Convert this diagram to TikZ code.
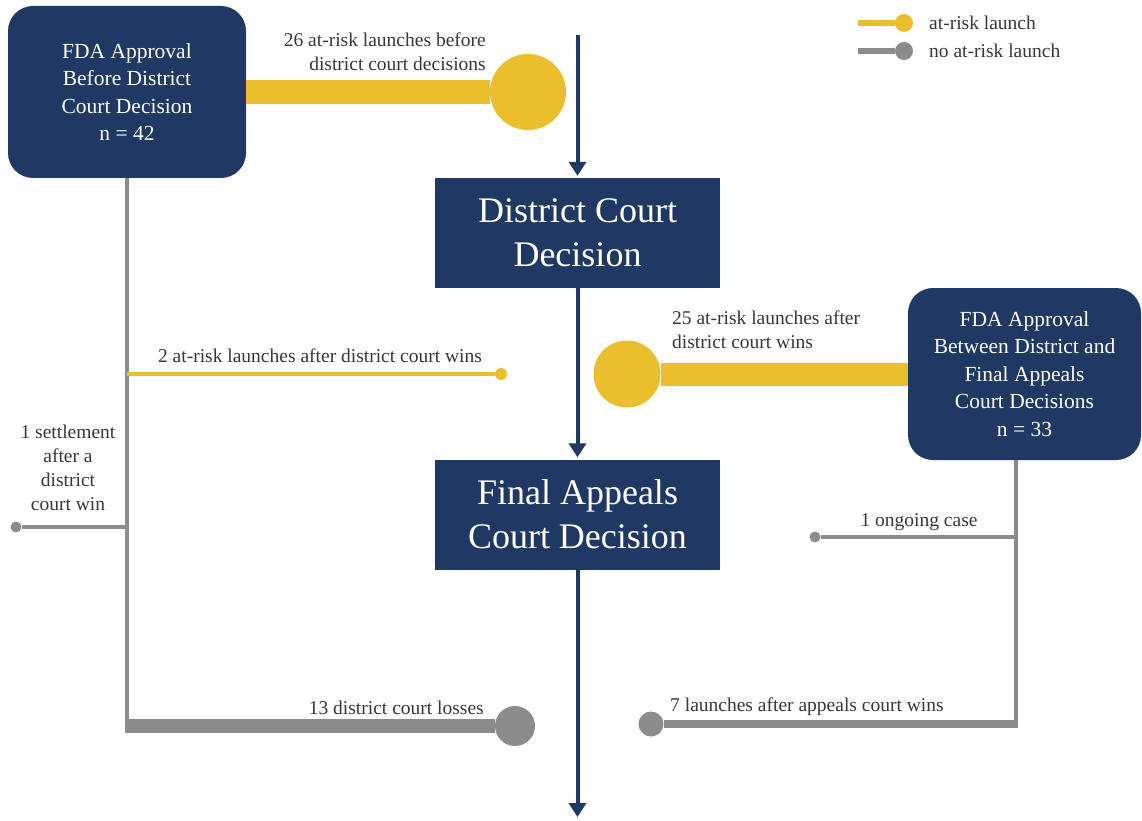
\documentclass[tikz,border=0pt]{standalone}
\usepackage{fontspec}
\setmainfont{Liberation Serif}
\usetikzlibrary{arrows.meta}
\definecolor{navy}{RGB}{31,56,100}
\definecolor{gold}{RGB}{235,190,45}
\definecolor{slate}{RGB}{140,140,140}
\definecolor{ink}{RGB}{55,55,55}
\tikzset{
  box/.style={fill=navy, text=white, align=center, inner sep=0pt},
  fdabox/.style={box, rounded corners=25pt, minimum height=172pt, font=\fontsize{21.5}{27.5}\selectfont},
  courtbox/.style={box, minimum width=285pt, minimum height=110pt, font=\fontsize{36}{44}\selectfont},
  note/.style={text=ink, inner sep=0pt, font=\fontsize{19.5}{24}\selectfont},
  dot/.style={circle, fill, inner sep=0pt, minimum size=#1},
  flow/.style={navy, line width=4pt, -{Triangle[width=17pt,length=14pt]}, shorten >=2pt}
}
\begin{document}
\begin{tikzpicture}[x=1pt, y=-1pt]
\useasboundingbox (0,0) rectangle (1142,821);
\node[fdabox, minimum width=238pt] (A) at (127,92) {FDA Approval\\Before District\\Court Decision\\n = 42};
\node[fdabox, minimum width=233pt] (B) at (1024.5,374) {FDA Approval\\Between District and\\Final Appeals\\Court Decisions\\n = 33};
\node[courtbox] (D) at (577.5,233) {District Court\\Decision};
\node[courtbox] (F) at (577.5,514.5) {Final Appeals\\Court Decision};
\coordinate (top) at (577.5,35);
\coordinate (bottom) at (577.5,819);
\draw[flow] (top) -- (D);
\draw[flow] (D) -- (F);
\draw[flow] (F) -- (bottom);
\node[dot=76pt, gold] (d1) at (528,92) {};
\draw[gold, line width=24pt] (A.east) -- (d1);
\node[note, anchor=south east, align=right] at (486,71) {26 at-risk launches before\\district court decisions};
\coordinate (A1) at (127,374);
\coordinate (A2) at (127,527);
\coordinate (A3) at (127,726);
\draw[slate, line width=4pt] (A.south) -- (A3);
\node[dot=12pt, gold] (d2) at (501,374) {};
\draw[gold, line width=4pt] (A1) -- (d2);
\node[note, anchor=base] at (320,362) {2 at-risk launches after district court wins};
\node[dot=11pt, slate] (d3) at (16,527) {};
\draw[slate, line width=4pt] (A2) -- (d3);
\node[note, align=center] at (68,468) {1 settlement\\after a\\district\\court win};
\node[dot=40pt, slate] (d4) at (515,726) {};
\draw[slate, line width=14pt] ([xshift=-2pt]A3) -- (d4);
\node[note, anchor=base east] at (484,714) {13 district court losses};
\node[dot=67pt, gold] (d7) at (627,374) {};
\draw[gold, line width=23pt] (B.west) -- (d7);
\node[note, anchor=north west, align=left] at (672,311) {25 at-risk launches after\\district court wins};
\coordinate (B1) at (1016,537);
\coordinate (B3) at (1016,724);
\draw[slate, line width=4pt] (B.south -| B3) -- (B3);
\node[dot=11pt, slate] (d5) at (815,537) {};
\draw[slate, line width=4pt] (B1) -- (d5);
\node[note, anchor=base] at (919,526) {1 ongoing case};
\node[dot=25pt, slate] (d6) at (651,724) {};
\draw[slate, line width=8pt] ([xshift=2pt]B3) -- (d6);
\node[note, anchor=base west] at (670,711) {7 launches after appeals court wins};
\coordinate (k1) at (858,23);
\node[dot=18pt, gold] (k1dot) at (904,23) {};
\draw[gold, line width=6pt] (k1) -- (k1dot);
\node[note, anchor=west] at (929,23) {at-risk launch};
\coordinate (k2) at (858,51);
\node[dot=18pt, slate] (k2dot) at (904,51) {};
\draw[slate, line width=6pt] (k2) -- (k2dot);
\node[note, anchor=west] at (929,51) {no at-risk launch};
\end{tikzpicture}
\end{document}
